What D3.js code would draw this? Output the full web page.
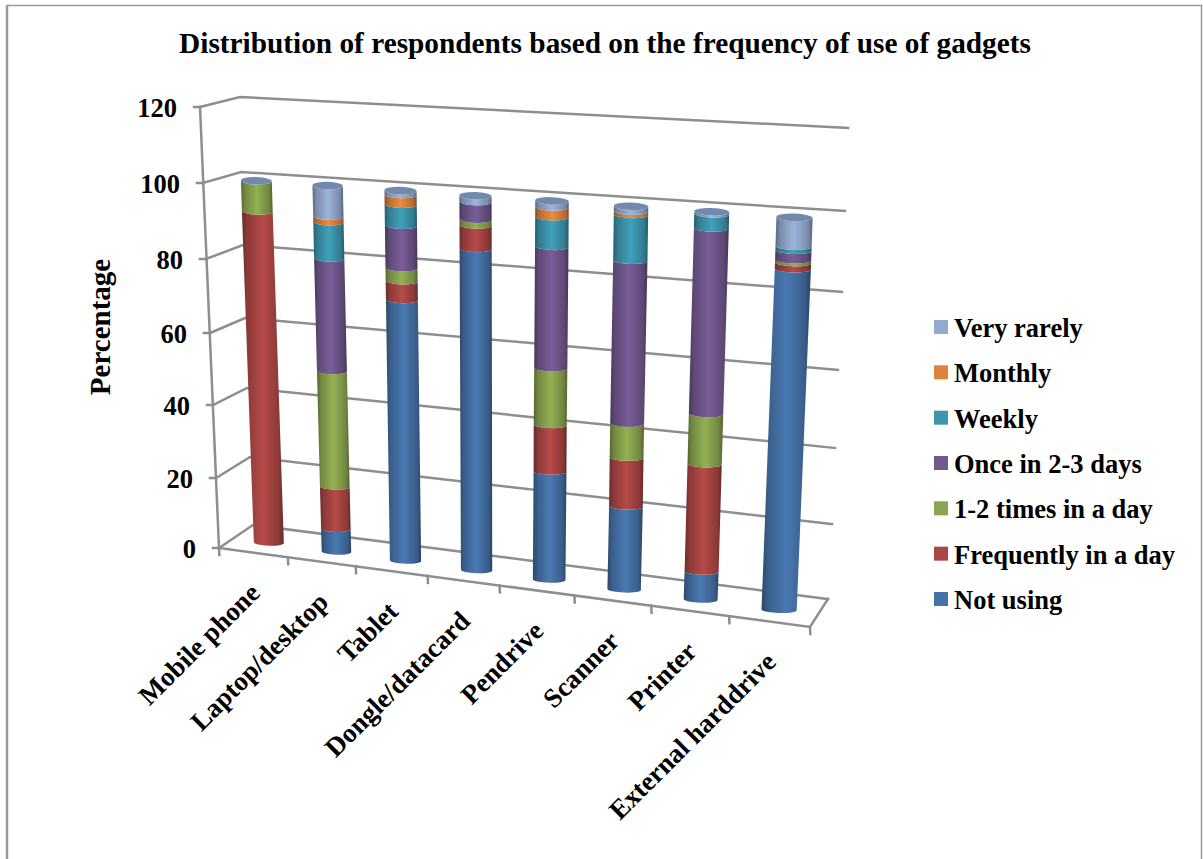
<!DOCTYPE html>
<html>
<head>
<meta charset="utf-8">
<script src="https://cdn.jsdelivr.net/npm/d3@7/dist/d3.min.js"></script>
<style>
  html, body { margin: 0; padding: 0; background: #fff; }
  svg { display: block; }
  text { font-family: "Liberation Serif", serif; font-weight: bold; fill: #000; }
</style>
</head>
<body>
<svg id="chart" width="1203" height="859"></svg>
<script>
// Frequency of gadget use, percent of respondents
const categories = ["Mobile phone", "Laptop/desktop", "Tablet", "Dongle/datacard", "Pendrive", "Scanner", "Printer", "External harddrive"];
const notUsing    = [0, 6.5, 71.5, 86.5, 29.5, 22.5, 7.5, 87.5];
const frequently  = [92, 12, 5, 6, 12.5, 13, 28.5, 1.5];
const oneTwoTimes = [8, 32, 3.5, 1.5, 15, 9, 13, 0.7];
const onceInDays  = [0, 30.5, 11, 4.5, 31.5, 42, 47, 2.3];
const weekly      = [0, 9.5, 5.5, 0, 7.5, 11.5, 3.5, 1];
const monthly     = [0, 1.5, 2.5, 0, 2.5, 0.8, 0, 0];
const veryRarely  = [0, 8, 1, 1.5, 1.5, 1.2, 0.5, 7];
const seriesNames = ["Not using", "Frequently in a day", "1-2 times in a day", "Once in 2-3 days", "Weekly", "Monthly", "Very rarely"];
const seriesValues = [notUsing, frequently, oneTwoTimes, onceInDays, weekly, monthly, veryRarely];
const seriesColors = ["#4572a7", "#aa4643", "#89a54e", "#71588f", "#3d96ae", "#db843d", "#93a9cf"];
const valueTicks = [0, 20, 40, 60, 80, 100, 120];

const svg = d3.select("#chart");
const defs = svg.append("defs");

// Perspective box: each wall corner gets its own value scale
const edge = (xs, ys) => ({
  x: d3.scaleLinear().domain(valueTicks).range(xs),
  y: d3.scaleLinear().domain(valueTicks).range(ys)
});
const frontLeft  = edge([219, 216, 213, 210, 206, 203, 200], [548, 478, 405, 333, 259, 183, 107]);
const backLeft   = edge([253, 250, 247, 245, 243, 241, 240], [525, 457, 388, 318, 245, 172, 97]);
const backRight  = edge([828, 832, 835, 838, 842, 845, 848], [599, 524, 448, 370, 292, 211, 128]);
const frontRight = edge([810, 814, 817, 821, 825, 828, 832], [627, 550, 472, 391, 311, 227, 141]);

// Category slots narrow towards the viewer's left, so the axis is piecewise
const slot = d3.scaleLinear()
  .domain(d3.range(0, 9))
  .range([0, 0.1166, 0.2314, 0.353, 0.4747, 0.6014, 0.7314, 0.8632, 1]);

function project(u, v, d) {
  const t = slot(u);
  const lx = frontLeft.x(v) + (backLeft.x(v) - frontLeft.x(v)) * d;
  const ly = frontLeft.y(v) + (backLeft.y(v) - frontLeft.y(v)) * d;
  const rx = frontRight.x(v) + (backRight.x(v) - frontRight.x(v)) * d;
  const ry = frontRight.y(v) + (backRight.y(v) - frontRight.y(v)) * d;
  return [lx + (rx - lx) * t, ly + (ry - ly) * t];
}

// Frame around the chart area
const frame = svg.append("g").attr("stroke", "#9a9a9a").attr("fill", "none");
frame.append("path").attr("d", "M7,859V5.5H1201.5V859").attr("stroke-width", 1.5);
frame.append("path").attr("d", "M7,5.5V859").attr("stroke-width", 2.5);

// Walls, floor and axis lines
const lineGen = d3.line();
const grid = svg.append("g").attr("fill", "none").attr("stroke", "#8e8e8e")
  .attr("stroke-width", 2.5).attr("stroke-linecap", "square");
grid.selectAll("path.wall").data(valueTicks).join("path").attr("class", "wall")
  .attr("d", v => lineGen([project(0, v, 0), project(0, v, 1), project(8, v, 1)]));
grid.selectAll("path.stub").data(valueTicks).join("path").attr("class", "stub")
  .attr("d", v => { const p = project(0, v, 0); return lineGen([[p[0] - 6, p[1]], p]); });
grid.append("path").attr("d", lineGen([project(0, 0, 0), project(0, 120, 0)]));
grid.append("path").attr("d", lineGen([project(0, 0, 0), project(8, 0, 0), project(8, 0, 1)]));
grid.selectAll("path.tick").data(d3.range(0, 9)).join("path").attr("class", "tick")
  .attr("d", i => { const p = project(i, 0, 0); return lineGen([p, [p[0] + 0.3, p[1] + 7]]); });

// Value labels
svg.append("g").selectAll("text").data(valueTicks).join("text")
  .attr("x", v => project(0, v, 0)[0] - 23)
  .attr("y", v => project(0, v, 0)[1] + 10)
  .attr("text-anchor", "end").attr("font-size", 26.5)
  .text(d => d);

// Shading across a cylinder, one gradient per series
const shade = (c, k) => { const q = d3.rgb(c); return d3.rgb(q.r * k, q.g * k, q.b * k).formatHex(); };
seriesColors.forEach((c, i) => {
  const g = defs.append("linearGradient").attr("id", "cyl" + i);
  [[0, 0.62], [0.12, 0.82], [0.5, 1.07], [0.88, 0.82], [1, 0.6]].forEach(([o, k]) =>
    g.append("stop").attr("offset", o).attr("stop-color", shade(c, k)));
});

// Stacked cylinders
const rows = categories.map((c, i) => {
  const row = { category: c };
  seriesNames.forEach((n, s) => { row[n] = seriesValues[s][i]; });
  return row;
});
const layers = d3.stack().keys(seriesNames)(rows);
const radius = 0.22;
const depth = 0.42;
const nudgeX = 1.5;
const sag = d3.scaleLinear().domain([0, 100]).range([3, 3.8]);

function rim(i, v) {
  const c = project(i + 0.5, v, depth);
  c[0] += nudgeX;
  const a = project(i + 0.5 - radius, 0, depth);
  const b = project(i + 0.5 + radius, 0, depth);
  const half = (b[0] - a[0]) / 2 * (1 + 0.0003 * v);
  // Rims stay close to level: only a trace of the floor's slope shows
  const slope = 0.25 * (b[1] - a[1]) / (b[0] - a[0]);
  return { l: [c[0] - half, c[1] - half * slope], r: [c[0] + half, c[1] + half * slope], half, angle: Math.atan(slope) * 180 / Math.PI, ry: sag(v) };
}

const cylinders = svg.append("g");
layers.forEach((layer, s) => {
  cylinders.selectAll(null)
    .data(layer.map((d, i) => ({ i, lo: d[0], hi: d[1] })).filter(d => d.hi > d.lo))
    .join("path")
    .attr("fill", "url(#cyl" + s + ")")
    .attr("d", d => {
      const a = rim(d.i, d.lo), b = rim(d.i, d.hi);
      return `M${a.l}A${a.half},${a.ry} ${a.angle} 0 0 ${a.r}L${b.r}A${b.half},${b.ry} ${b.angle} 0 1 ${b.l}Z`;
    });
});
// Cap on each stack
cylinders.selectAll("ellipse").data(rows).join("ellipse")
  .each(function (d, i) {
    const top = d3.sum(seriesNames, n => d[n]);
    const r = rim(i, top);
    const cx = (r.l[0] + r.r[0]) / 2, cy = (r.l[1] + r.r[1]) / 2;
    d3.select(this).attr("cx", cx).attr("cy", cy).attr("rx", r.half).attr("ry", r.ry)
      .attr("transform", `rotate(${r.angle} ${cx} ${cy})`);
  })
  .attr("fill", "#7089ad");

// Category labels, slanted and ending under their slot
svg.append("g").selectAll("text").data(categories).join("text")
  .attr("transform", (d, i) => { const p = project(i + 0.5, 0, 0); return `translate(${p[0] + 8},${p[1] + 42}) rotate(-45)`; })
  .attr("text-anchor", "end").attr("font-size", 27)
  .text(d => d);

// Title and value axis name
svg.append("text").attr("x", 605).attr("y", 53).attr("text-anchor", "middle").attr("font-size", 29.3)
  .text("Distribution of respondents based on the frequency of use of gadgets");
svg.append("text").attr("transform", "translate(110,327) rotate(-90)").attr("text-anchor", "middle").attr("font-size", 29)
  .text("Percentage");

// Legend, top entry is the last series
const legendY = d3.scaleLinear().domain([0, 6]).range([327, 599]);
const legendRows = seriesNames.map((n, i) => ({ n, c: seriesColors[i] })).reverse();
const legend = svg.append("g").selectAll("g").data(legendRows).join("g")
  .attr("transform", (d, i) => `translate(934,${legendY(i)})`);
legend.append("rect").attr("y", -7).attr("width", 14).attr("height", 14).attr("fill", d => d.c);
legend.append("text").attr("x", 20).attr("y", 10).attr("font-size", 26.5).text(d => d.n);
</script>
</body>
</html>
